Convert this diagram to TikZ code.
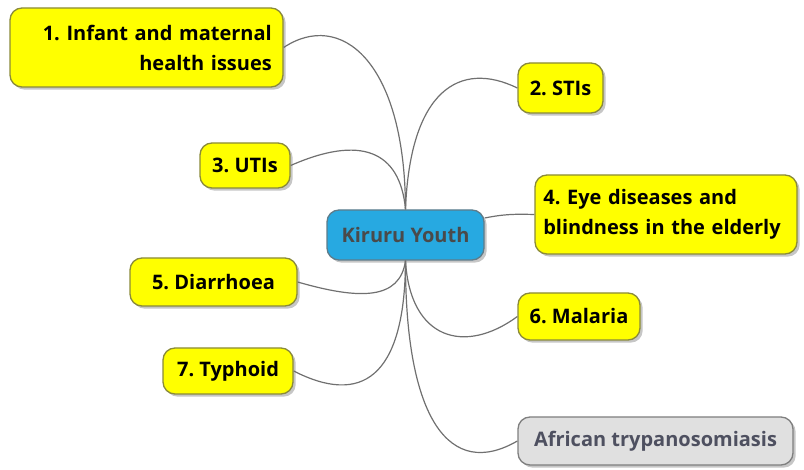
\documentclass[tikz,border=0pt]{standalone}
\usepackage{fontspec}
\setmainfont{Open Sans}
\usetikzlibrary{shadows,calc}
\frenchspacing
\definecolor{ybox}{HTML}{FFFF00}
\definecolor{yborder}{HTML}{8A8A3A}
\definecolor{cfill}{HTML}{27A9E1}
\definecolor{cborder}{HTML}{5E7C8A}
\definecolor{ctext}{HTML}{4A4A4A}
\definecolor{gfill}{HTML}{E0E0E0}
\definecolor{gborder}{HTML}{7F7F7F}
\definecolor{gtext}{HTML}{4E5060}
\definecolor{conn}{HTML}{707070}
\begin{document}
\begin{tikzpicture}[x=0.75pt,y=-0.75pt,
  topic/.style={draw=yborder,line width=1pt,fill=ybox,rounded corners=9pt,
    font=\fontsize{15pt}{22.5pt}\selectfont\bfseries,text=black,
    inner sep=0pt,
    drop shadow={shadow xshift=2pt,shadow yshift=-2pt,opacity=0.45,fill=gray}},
  central/.style={topic,draw=cborder,fill=cfill,text=ctext},
  other/.style={topic,draw=gborder,fill=gfill,text=gtext},
  link/.style={draw=conn,line width=0.9pt}]
\useasboundingbox (0,0) rectangle (804,470);
\node[topic,minimum width=204.75pt,minimum height=59.25pt,align=right,text width=188pt] (n1) at (146.5,47.5) {1. Infant and maternal\\health issues};
\node[topic,minimum width=63.75pt,minimum height=37.5pt] (n2) at (560.5,88) {2. STIs};
\node[topic,minimum width=67.5pt,minimum height=33.75pt] (n3) at (245,165.5) {3. UTIs};
\node[topic,minimum width=196.5pt,minimum height=59.25pt,align=left,text width=184pt] (n4) at (666,214.5) {4. Eye diseases and\\blindness in the elderly};
\node[central,minimum width=117.75pt,minimum height=37.5pt] (c) at (405.5,235) {Kiruru Youth};
\node[topic,minimum width=125.25pt,minimum height=36pt] (n5) at (213.5,282) {5. Diarrhoea};
\node[topic,minimum width=91.5pt,minimum height=35.25pt] (n6) at (579,316.5) {6. Malaria};
\node[topic,minimum width=97.5pt,minimum height=34.5pt] (n7) at (228,371) {7. Typhoid};
\node[other,minimum width=206.25pt,minimum height=36pt] (g) at (655.5,441) {African trypanosomiasis};
\path[link] (c.north) .. controls (405,60) and (340,10) .. (n1.east);
\path[link] (c.north) .. controls (410,90) and (460,60) .. (n2.west);
\path[link] (c.north) .. controls (400,150) and (360,135) .. (n3.east);
\path[link] ($(c.east)+(0,-17)$) .. controls (505,214) and (515,214) .. (n4.west);
\path[link] (c.south) .. controls (400,300) and (360,300) .. (n5.east);
\path[link] (c.south) .. controls (410,340) and (465,355) .. (n6.west);
\path[link] (c.south) .. controls (405,380) and (360,405) .. (n7.east);
\path[link] (c.south) .. controls (405,420) and (450,480) .. (g.west);
\end{tikzpicture}
\end{document}
